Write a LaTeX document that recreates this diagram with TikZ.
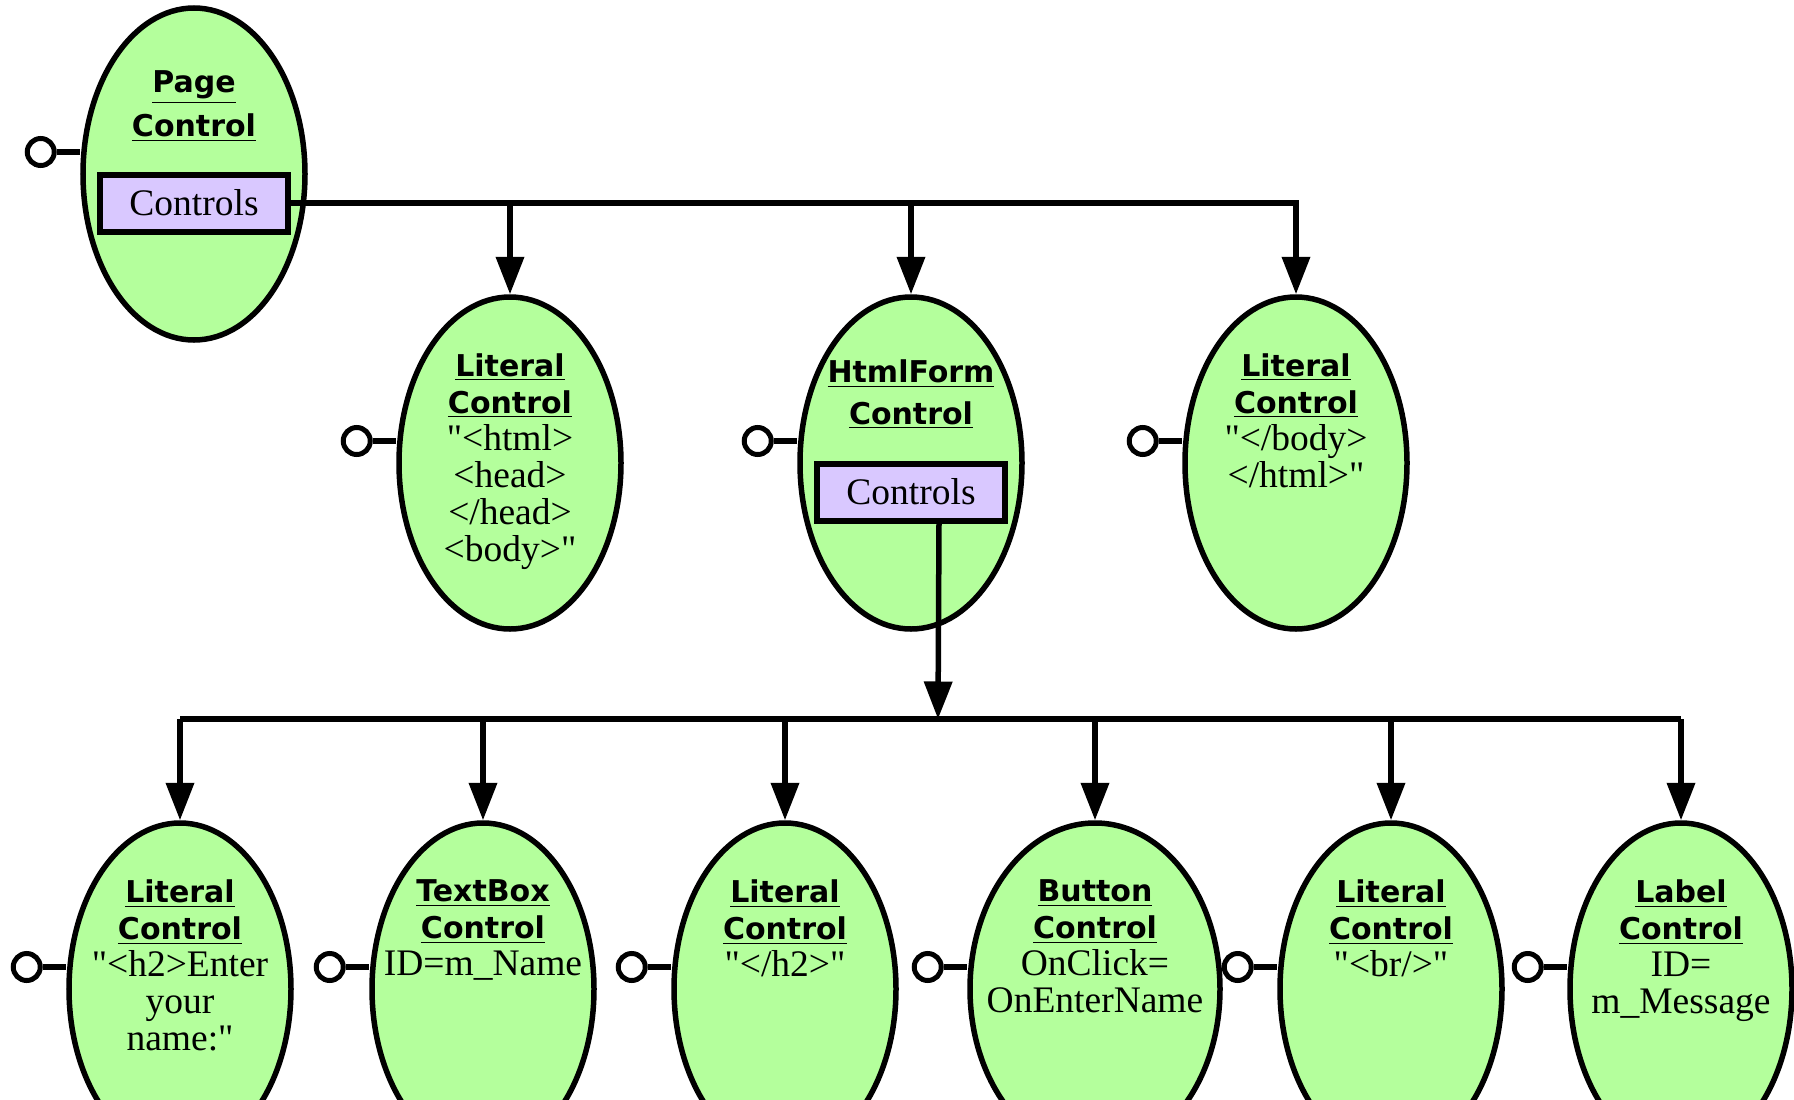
\documentclass[tikz,border=0pt]{standalone}
\usepackage{fontspec}
\setmainfont{Liberation Serif}
\newfontfamily\headfont{DejaVu Sans}
\usetikzlibrary{shapes.geometric,arrows.meta,positioning}
\definecolor{ctlgreen}{RGB}{180,255,156}
\definecolor{boxlilac}{RGB}{217,200,255}
\def\hd#1{{\headfont\bfseries\fontsize{12pt}{14.8pt}\selectfont\underline{#1}}}
\def\q{\textquotedbl}

\begin{document}
\begin{tikzpicture}[x=0.4pt,y=-0.4pt,
    ctl/.style={ellipse,draw,line width=2.2pt,fill=ctlgreen,inner sep=0pt,
                minimum width=88.8pt,minimum height=132.8pt},
    ctltext/.style={align=center,inner sep=0pt,
                font=\fontsize{15pt}{14.8pt}\selectfont},
    ctlbox/.style={draw,line width=2.4pt,fill=boxlilac,minimum width=75.2pt,
                minimum height=22.8pt,inner sep=0pt,font=\fontsize{15pt}{15pt}\selectfont},
    port/.style={circle,draw,line width=2pt,fill=white,inner sep=0pt,minimum size=10.8pt},
    wire/.style={line width=2.2pt},
    arr/.style={-{Triangle[length=15pt,width=11pt]}}]
    \useasboundingbox (0,0) rectangle (1794,1100);
    \clip (0,0) rectangle (1794,1100);

    % top level
    \node[ctl] (page) at (194,174) {};
    \node[ctltext,below=26pt of page.north] (pagetxt) {\hd{Page}\\[2.8pt]\hd{Control}};
    \node[ctlbox] (pageBox) at ([yshift=-11.6pt]page.center) {Controls};

    % second row
    \node[ctl] (lit1) at (510,463) {};
    \node[ctl] (form) at (911,463) {};
    \node[ctl] (lit2) at (1296,463) {};
    \node[ctltext,below=23.4pt of lit1.north] (lit1txt)
        {\hd{Literal}\\\hd{Control}\\\q<html>\\<head>\\</head>\\<body>\q};
    \node[ctltext,below=26pt of form.north] (formtxt) {\hd{HtmlForm}\\[1.8pt]\hd{Control}};
    \node[ctlbox] (formBox) at ([yshift=-11.6pt]form.center) {Controls};
    \node[ctltext,below=23.4pt of lit2.north] (lit2txt)
        {\hd{Literal}\\\hd{Control}\\\q</body>\\</html>\q};

    % third row
    \node[ctl] (lit3) at (180,989) {};
    \node[ctl] (tbox) at (483,989) {};
    \node[ctl] (lit4) at (785,989) {};
    \node[ctl,minimum width=100pt] (btn) at (1095,989) {};
    \node[ctl] (lit5) at (1391,989) {};
    \node[ctl] (lab) at (1681,989) {};
    \node[ctltext,below=23.6pt of lit3.north] (lit3txt)
        {\hd{Literal}\\\hd{Control}\\\q<h2>Enter\\your\\name:\q};
    \node[ctltext,below=23.6pt of tbox.north] (tboxtxt)
        {\hd{TextBox}\\\hd{Control}\\ID=m\_Name};
    \node[ctltext,below=23.6pt of lit4.north] (lit4txt)
        {\hd{Literal}\\\hd{Control}\\\q</h2>\q};
    \node[ctltext,below=23.6pt of btn.north] (btntxt)
        {\hd{Button}\\\hd{Control}\\OnClick=\\OnEnterName};
    \node[ctltext,below=23.6pt of lit5.north] (lit5txt)
        {\hd{Literal}\\\hd{Control}\\\q<br/>\q};
    \node[ctltext,below=23.6pt of lab.north] (labtxt)
        {\hd{Label}\\\hd{Control}\\ID=\\m\_Message};

    % ports on the left
    \foreach \n in {page,lit1,form,lit2,lit3,tbox,lit4,btn,lit5,lab}{
        \node[port,left=9.4pt of \n.west,yshift=8.8pt] (\n port) {};
        \draw[wire] (\n port) -- (\n port -| \n.west);
    }

    % page controls
    \draw[wire,arr] (pageBox.east) -| (lit2.north);
    \draw[wire,arr] (pageBox.east -| lit1.north) -- (lit1.north);
    \draw[wire,arr] (pageBox.east -| form.north) -- (form.north);

    % form controls
    \coordinate (bus) at (938,719);
    \draw[wire,arr] ([xshift=11.2pt]formBox.south) -- (bus);
    \draw[wire] (bus -| lit3.north) -- (bus -| lab.north);
    \foreach \n in {lit3,tbox,lit4,btn,lit5,lab}
        \draw[wire,arr] (bus -| \n.north) -- (\n.north);
\end{tikzpicture}
\end{document}
